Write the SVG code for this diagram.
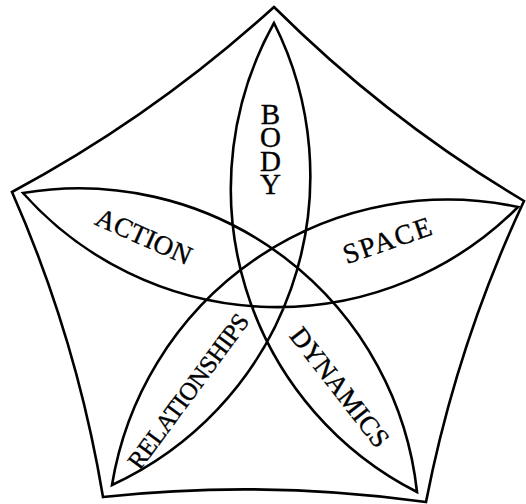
<svg xmlns="http://www.w3.org/2000/svg" width="526" height="504" viewBox="0 0 526 504">
<style>
.ln{fill:none;stroke:#000;stroke-width:2.6;stroke-linejoin:miter}
.lb{font-family:"Liberation Serif","Times New Roman",serif;font-size:27px;fill:#000;stroke:#000;stroke-width:0.35;text-anchor:middle}
.vt{writing-mode:vertical-rl;text-orientation:upright}
</style>
<rect width="526" height="504" fill="#fff"/>
<g id="outline">
<path class="ln" d="M274,7 Q387.3,119.8 524,201 Q456.5,345.3 426,502 Q264.2,479.5 103,497 Q76.7,338.8 12,192 Q154.5,115.8 274,7 Z"/>
</g>
<g id="connectors">
<path class="ln" d="M274,23 A340,340 0 0 0 417,492 A340,340 0 0 0 23,193 A340,340 0 0 0 518,207 A340,340 0 0 0 112,485 A340,340 0 0 0 274,23 Z"/>
</g>
<g id="body">
<text class="lb vt" style="font-size:29px" x="270.5" y="149" textLength="102" lengthAdjust="spacing">BODY</text>
</g>
<g id="action">
<text class="lb" transform="translate(144,236) rotate(24)" dy="0.35em">ACTION</text>
</g>
<g id="space">
<text class="lb" style="font-size:28px" transform="translate(387,240) rotate(-19)" dy="0.35em" textLength="92" lengthAdjust="spacing">SPACE</text>
</g>
<g id="relationships">
<text class="lb" style="font-size:25px" transform="translate(188,391) rotate(-53.6)" dy="0.35em" textLength="186" lengthAdjust="spacing">RELATIONSHIPS</text>
</g>
<g id="dynamics">
<text class="lb" transform="translate(340,387) rotate(52.2)" dy="0.35em">DYNAMICS</text>
</g>
</svg>
